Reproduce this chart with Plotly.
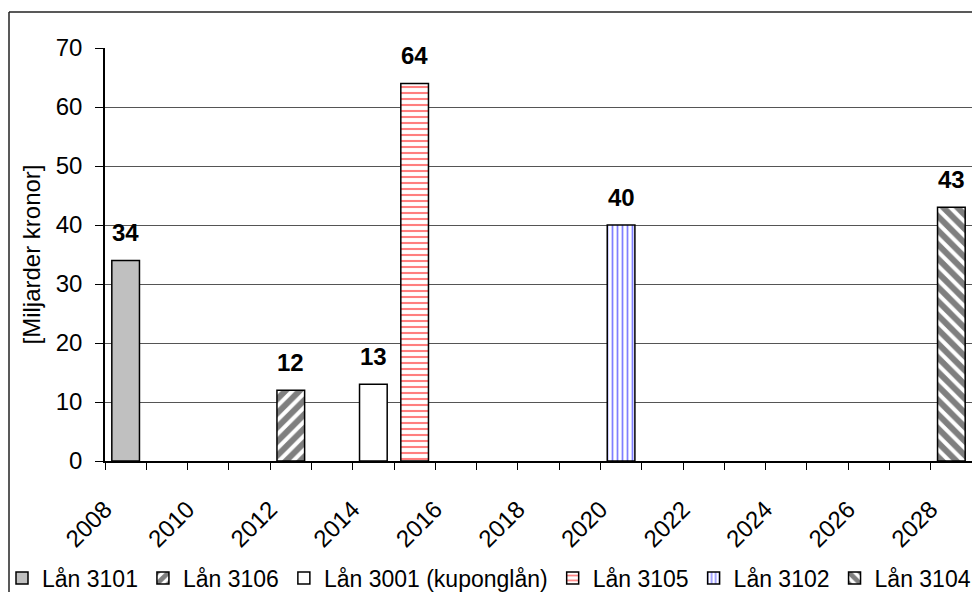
import plotly.graph_objects as go

# ---- data ----
loans = ["Lån 3101", "Lån 3106", "Lån 3001 (kuponglån)", "Lån 3105", "Lån 3102", "Lån 3104"]
years = [2008, 2012, 2014, 2015, 2020, 2028]
values = [34, 12, 13, 64, 40, 43]
y_ticks = [0, 10, 20, 30, 40, 50, 60, 70]

# ---- styles ----
FONT = "Arial, 'Liberation Sans', sans-serif"
FS = 24
LFS = 23
fills = ["#C0C0C0", "white", "white", "white", "white", "white"]
patterns = [
    dict(shape=""),
    dict(shape="/", fgcolor="black", bgcolor="white", size=10, solidity=0.6),
    dict(shape=""),
    dict(shape="-", fgcolor="#FF0000", bgcolor="white", size=6, solidity=0.35),
    dict(shape="|", fgcolor="#0000FF", bgcolor="white", size=5, solidity=0.35),
    dict(shape="\\", fgcolor="black", bgcolor="white", size=10, solidity=0.6),
]

W, H = 972, 592
L, R, T, B = 105, 0, 48, 131

fig = go.Figure()
for name, yr, v, fc, pat in zip(loans, years, values, fills, patterns):
    fig.add_trace(go.Bar(
        name=name, x=[yr], y=[v], width=0.67, offset=0.165,
        marker=dict(color=fc, line=dict(color="black", width=1.5), pattern=pat),
        hoverinfo="skip",
    ))

annotations = [
    dict(x=yr + 0.5, y=v, xref="x", yref="y", text=str(v), showarrow=False,
         yanchor="bottom", yshift=12, font=dict(family=FONT, size=FS, color="black", weight="bold"))
    for yr, v in zip(years, values)
]

pw = W - L - R
ph = H - T - B
bx = (9 - L) / pw
by = (H - B - 12) / ph
shapes = [
    dict(type="line", xref="paper", yref="paper", x0=bx, x1=bx, y0=-1, y1=by,
         line=dict(color="#222222", width=1.5)),
    dict(type="line", xref="paper", yref="paper", x0=bx, x1=1.2, y0=by, y1=by,
         line=dict(color="#222222", width=1.5)),
]

fig.update_layout(
    width=W, height=H,
    margin=dict(l=L, r=R, t=T, b=B, autoexpand=False),
    paper_bgcolor="white", plot_bgcolor="white",
    barmode="overlay",
    font=dict(family=FONT, size=FS, color="black"),
    showlegend=True,
    legend=dict(orientation="h", x=(2 - L) / pw, xanchor="left", y=(H - B - 578) / ph, yanchor="middle",
                font=dict(size=LFS), itemwidth=30, tracegroupgap=0, bgcolor="rgba(0,0,0,0)",
                traceorder="normal"),
    annotations=annotations,
    shapes=shapes,
)

fig.update_xaxes(
    range=[2008, 2029], tick0=2008, dtick=2, tickangle=-45,
    showline=True, linecolor="black", linewidth=1.5,
    ticks="outside", ticklen=7, tickcolor="black", tickwidth=1.2,
    minor=dict(dtick=1, tick0=2008, ticks="outside", ticklen=7, tickcolor="black", tickwidth=1.2, showgrid=False),
    showgrid=False, zeroline=False, tickfont=dict(size=FS), ticklabelstandoff=16,
)
fig.update_yaxes(
    range=[0, 70], tickvals=y_ticks,
    showline=True, linecolor="black", linewidth=1.5,
    ticks="outside", ticklen=8, tickcolor="black", tickwidth=1.2,
    showgrid=True, gridcolor="#555555", gridwidth=1, zeroline=False,
    tickfont=dict(size=FS), ticklabelstandoff=8,
    title=dict(text="[Miljarder kronor]", font=dict(size=FS), standoff=8),
)

fig.write_html("out.html")
